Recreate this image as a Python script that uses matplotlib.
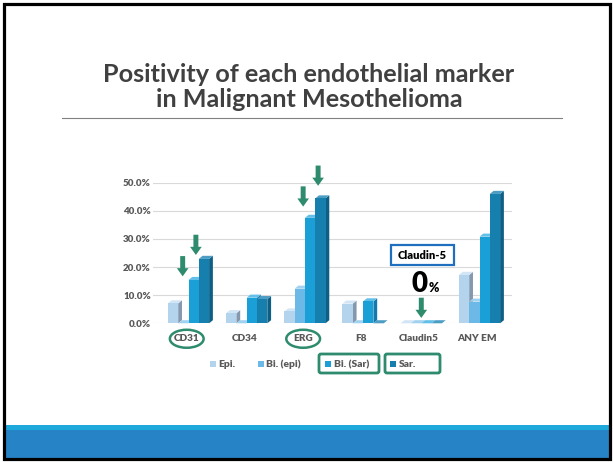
import matplotlib.pyplot as plt
import numpy as np
from matplotlib.patches import Rectangle, Ellipse, FancyBboxPatch, FancyArrow, Polygon

plt.rcParams['font.family'] = ['Lato', 'DejaVu Sans']

# data (percent positive)
markers = ['CD31', 'CD34', 'ERG', 'F8', 'Claudin5', 'ANY EM']
series = ['Epi.', 'Bi. (epi)', 'Bi. (Sar)', 'Sar.']
epi = [7.1, 3.6, 4.2, 7.0, 0.0, 17.2]
bi_epi = [0.0, 0.0, 12.3, 0.0, 0.0, 7.7]
bi_sar = [15.4, 9.1, 37.5, 7.8, 0.0, 30.8]
sar = [22.9, 8.6, 44.4, 0.0, 0.0, 46.0]
yticks = [0, 10, 20, 30, 40, 50]
values = [epi, bi_epi, bi_sar, sar]

# styling
front = ['#b4d4ee', '#6cb9e7', '#1a9fd7', '#167fae']
side = ['#8499b0', '#4a8fbf', '#137ab0', '#0e5f85']
top = ['#d2e5f5', '#a0d1ef', '#62bfe7', '#4c9cc4']
green = '#2e8b6e'
grey_txt = '#595959'
heavy = 'heavy'

W, H = 613, 462
fig = plt.figure(figsize=(W / 100, H / 100), dpi=100)

# slide background in pixel coordinates
bg = fig.add_axes([0, 0, 1, 1])
bg.set_xlim(0, W)
bg.set_ylim(H, 0)
bg.axis('off')

bg.text(309, 81.7, 'Positivity of each endothelial marker', ha='center', va='baseline',
        fontsize=18.2, fontweight='bold', color='#404040')
bg.text(309, 106.7, 'in Malignant Mesothelioma', ha='center', va='baseline',
        fontsize=18.2, fontweight='bold', color='#404040')
bg.plot([62, 562], [118.3, 118.3], color='#808080', lw=0.8)

bg.add_patch(Rectangle((3, 424.7), 607, 5.5, color='#1fa8dc', lw=0))
bg.add_patch(Rectangle((3, 430), 607, 28, color='#2683c6', lw=0))
bg.add_patch(Rectangle((3.5, 3.5), 606, 455, fill=False, ec='black', lw=2.3))

# legend
sq_x = [210, 258, 325, 390]
for s, name in enumerate(series):
    bg.add_patch(Rectangle((sq_x[s], 361), 6, 6, color=front[s], lw=0))
    bg.text(sq_x[s] + 8.5, 364.5, name, ha='left', va='center', fontsize=7.4,
            fontweight=heavy, color=grey_txt)
for x0, wd in [(319, 60), (385, 55)]:
    bg.add_patch(FancyBboxPatch((x0, 354), wd, 19, boxstyle='round,pad=0,rounding_size=2',
                                fill=False, ec=green, lw=2))

# Claudin-5 callout
bg.add_patch(Rectangle((391, 245), 63, 20, fill=False, ec='#1e6fbf', lw=1.6))
bg.text(422.5, 255.5, 'Claudin-5', ha='center', va='center', fontsize=8,
        fontweight=heavy, color='black')
bg.text(420, 292, '0', ha='center', va='baseline', fontsize=20, fontweight=heavy, color='black')
bg.text(428.5, 292, '%', ha='left', va='baseline', fontsize=9, fontweight=heavy, color='black')

# chart axes
x0p, x1p, y0p, y1p = 153, 512, 323.3, 182.7
spacing = 58.2
c0 = 188.5
ax = fig.add_axes([x0p / W, 1 - y0p / H, (x1p - x0p) / W, (y0p - y1p) / H])
ax.set_facecolor('none')
ax.set_xlim((x0p - c0) / spacing, (x1p - c0) / spacing)
ax.set_ylim(0, 50)
for sp in ax.spines.values():
    sp.set_visible(False)
ax.set_yticks(yticks)
ax.set_yticklabels([f'{t:.1f}%' for t in yticks], fontsize=7, fontweight=heavy, color=grey_txt)
ax.grid(axis='y', color='#d9d9d9', lw=0.8)
ax.set_axisbelow(True)
xi = np.arange(len(markers))
ax.set_xticks(xi - 0.04)
ax.set_xticklabels(markers, fontsize=7.2, fontweight=heavy, color=grey_txt)
ax.tick_params(length=0)
ax.tick_params(axis='y', pad=1.5)
ax.tick_params(axis='x', pad=8)

w = 0.177
dx = 0.065
dy = 1.1
for s, vals in enumerate(values):
    xs = xi + (s - 1.5) * w
    ax.bar(xs, vals, width=w, color=front[s], lw=0, zorder=2.5 + s, clip_on=False)
    for x, v in zip(xs, vals):
        l, r = x - w / 2, x + w / 2
        ax.add_patch(Polygon([(r, 0), (r + dx, dy), (r + dx, v + dy), (r, v)],
                             closed=True, color=side[s], lw=0, zorder=2 + s, clip_on=False))
        ax.add_patch(Polygon([(l, v), (l + dx, v + dy), (r + dx, v + dy), (r, v)],
                             closed=True, color=top[s], lw=0, zorder=2 + s, clip_on=False))

# highlight arrows: (group, series, x shift, gap above bar)
arrows = [(0, 2, -0.10, 1.3), (0, 3, -0.05, 1.4), (2, 2, -0.03, 4.0),
          (2, 3, 0.05, 4.5), (4, 2, 0.0, 1.9)]
for g, s, sh, gap in arrows:
    x = g + (s - 2) * w + sh
    tip = values[s][g] + gap
    ax.add_patch(FancyArrow(x, tip + 7.2, 0, -7.2, width=0.085, head_width=0.2,
                            head_length=2.9, length_includes_head=True, color=green,
                            lw=0, zorder=20, clip_on=False))

# circles around the highlighted markers
for g in [0, 2]:
    ax.add_patch(Ellipse((g - 0.03, -5.5), 0.58, 6.4, fill=False, ec=green, lw=1.8,
                         clip_on=False, zorder=20))

fig.savefig('out.png', dpi=100)
